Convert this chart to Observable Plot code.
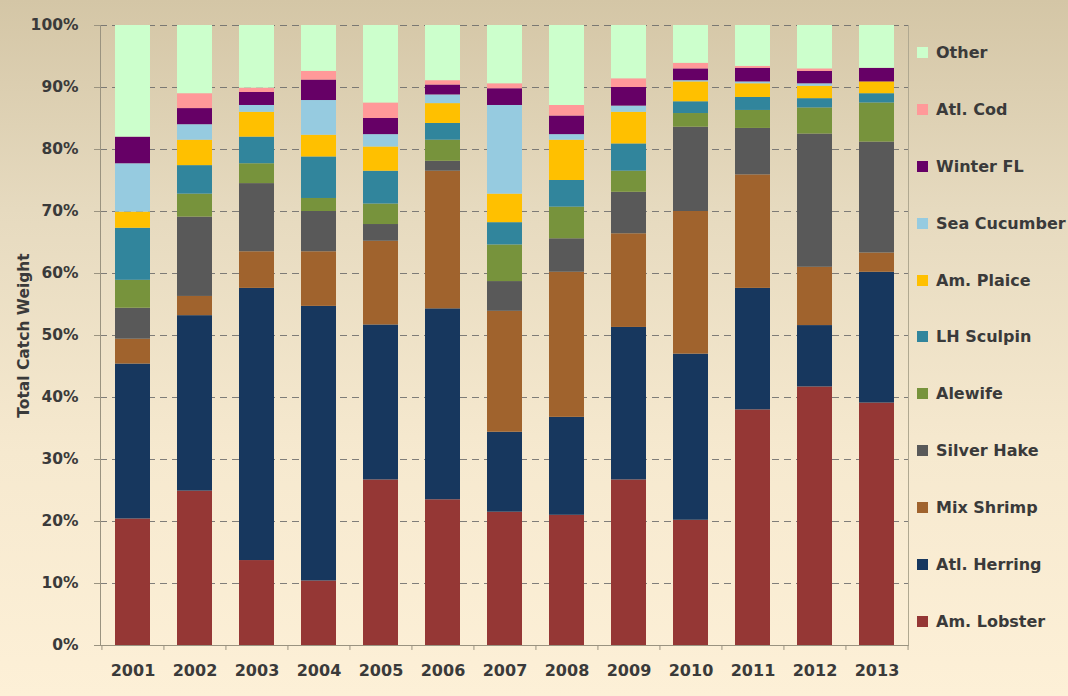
<!DOCTYPE html>
<html>
<head>
<meta charset="utf-8">
<script src="https://cdn.jsdelivr.net/npm/d3@7"></script>
<script src="https://cdn.jsdelivr.net/npm/@observablehq/plot@0.6"></script>
<style>
  html, body { margin: 0; padding: 0; }
  #wrap {
    position: relative; width: 1068px; height: 696px; overflow: hidden;
    background: linear-gradient(to bottom, #d4c6a6 0%, #e6dabf 30%, #f6e9cf 65%, #fdf0d7 100%);
    font-family: "DejaVu Sans", sans-serif;
  }
  #chart { position: absolute; left: 0; top: 0; }
  #legend { position: absolute; left: 917px; top: 24px; }
  .item { display: flex; align-items: center; height: 56.9px; font-weight: bold; font-size: 16px; color: #3a3a3a; white-space: nowrap; }
  .sw { width: 11px; height: 11px; margin-right: 8px; flex: none; }
</style>
</head>
<body>
<div id="wrap"><div id="chart"></div><div id="legend"></div></div>
<script>
const years = ["2001","2002","2003","2004","2005","2006","2007","2008","2009","2010","2011","2012","2013"];
const species = ["Am. Lobster","Atl. Herring","Mix Shrimp","Silver Hake","Alewife","LH Sculpin","Am. Plaice","Sea Cucumber","Winter FL","Atl. Cod","Other"];
const colors = ["#953735","#17375e","#a0632d","#595959","#77933c","#31859c","#ffc000","#96cbe0","#660066","#ff9999","#ccffcc"];
const yTicks = [0,10,20,30,40,50,60,70,80,90,100];

// percent of total catch weight, by year
const amLobster   = [20.4,24.9,13.7,10.4,26.7,23.5,21.5,21.0,26.7,20.2,38.0,41.7,39.1];
const atlHerring  = [25.0,28.3,43.9,44.3,25.0,30.8,12.9,15.8,24.6,26.8,19.6, 9.9,21.1];
const mixShrimp   = [ 4.0, 3.1, 5.9, 8.8,13.5,22.2,19.5,23.4,15.1,23.0,18.3, 9.4, 3.1];
const silverHake  = [ 5.0,12.8,11.0, 6.5, 2.7, 1.6, 4.8, 5.4, 6.7,13.6, 7.5,21.5,17.9];
const alewife     = [ 4.5, 3.7, 3.2, 2.1, 3.3, 3.4, 5.9, 5.1, 3.4, 2.2, 2.9, 4.2, 6.3];
const lhSculpin   = [ 8.4, 4.6, 4.3, 6.7, 5.3, 2.7, 3.6, 4.3, 4.4, 1.9, 2.1, 1.5, 1.5];
const amPlaice    = [ 2.6, 4.1, 4.0, 3.5, 3.9, 3.2, 4.6, 6.5, 5.1, 3.2, 2.2, 2.0, 1.9];
const seaCucumber = [ 7.8, 2.5, 1.1, 5.6, 2.0, 1.4,14.3, 0.9, 1.0, 0.2, 0.3, 0.4, 0.0];
const winterFL    = [ 4.3, 2.6, 2.1, 3.3, 2.6, 1.6, 2.7, 3.0, 3.0, 1.9, 2.2, 2.0, 2.2];
const atlCod      = [ 0.0, 2.4, 0.7, 1.4, 2.5, 0.7, 0.8, 1.7, 1.4, 0.9, 0.3, 0.4, 0.0];
const other       = [18.0,11.0,10.1, 7.4,12.5, 8.9, 9.4,12.9, 8.6, 6.1, 6.6, 7.0, 6.9];

const series = [amLobster, atlHerring, mixShrimp, silverHake, alewife, lhSculpin, amPlaice, seaCucumber, winterFL, atlCod, other];

const rows = [];
years.forEach((yr, i) => species.forEach((s, j) => rows.push({year: yr, species: s, value: series[j][i]})));

const W = 912, H = 696, ML = 100, MR = 4, MT = 25, MB = 51;
const step = (W - ML - MR) / years.length;
const lastYear = years[years.length - 1];

const chart = Plot.plot({
  width: W, height: H,
  marginTop: MT, marginBottom: MB, marginLeft: ML, marginRight: MR,
  style: {background: "transparent", fontFamily: "DejaVu Sans, sans-serif", fontWeight: "bold", fontSize: "14px", color: "#3a3a3a", overflow: "visible"},
  x: {domain: years, paddingInner: 0.437, paddingOuter: 0.2185, label: null},
  y: {domain: [0, 100], label: null},
  color: {domain: species, range: colors},
  marks: [
    Plot.gridY(yTicks.filter(d => d > 0), {stroke: "#6a6a6a", strokeOpacity: 0.85, strokeDasharray: "7,5"}),
    Plot.barY(rows, {x: "year", y: "value", fill: "species", order: species}),
    Plot.axisX({tickSize: 0, tickPadding: 19, fontSize: 16}),
    Plot.axisY({ticks: yTicks, tickFormat: d => d + "%", tickSize: 6, tickPadding: 16, stroke: "#9a9380", fontSize: 15.5,
      label: "Total Catch Weight", labelAnchor: "center", labelArrow: "none", labelOffset: 83, fontSize: 15.5}),
    Plot.ruleY([0], {stroke: "#9a9380"}),
    Plot.frame({anchor: "left", stroke: "#9a9380"}),
    Plot.frame({anchor: "right", stroke: "#b0a890"}),
    Plot.ruleX(years, {x: d => d, y1: 0, y2: -0.8, dx: -step / 2, stroke: "#9a9380"}),
    Plot.ruleX([lastYear], {x: d => d, y1: 0, y2: -0.8, dx: step / 2, stroke: "#9a9380"})
  ]
});
document.getElementById("chart").appendChild(chart);

const legend = document.getElementById("legend");
species.slice().reverse().forEach(s => {
  const it = document.createElement("div");
  it.className = "item";
  const sw = document.createElement("span");
  sw.className = "sw";
  sw.style.background = colors[species.indexOf(s)];
  it.appendChild(sw);
  it.appendChild(document.createTextNode(s));
  legend.appendChild(it);
});
</script>
</body>
</html>
